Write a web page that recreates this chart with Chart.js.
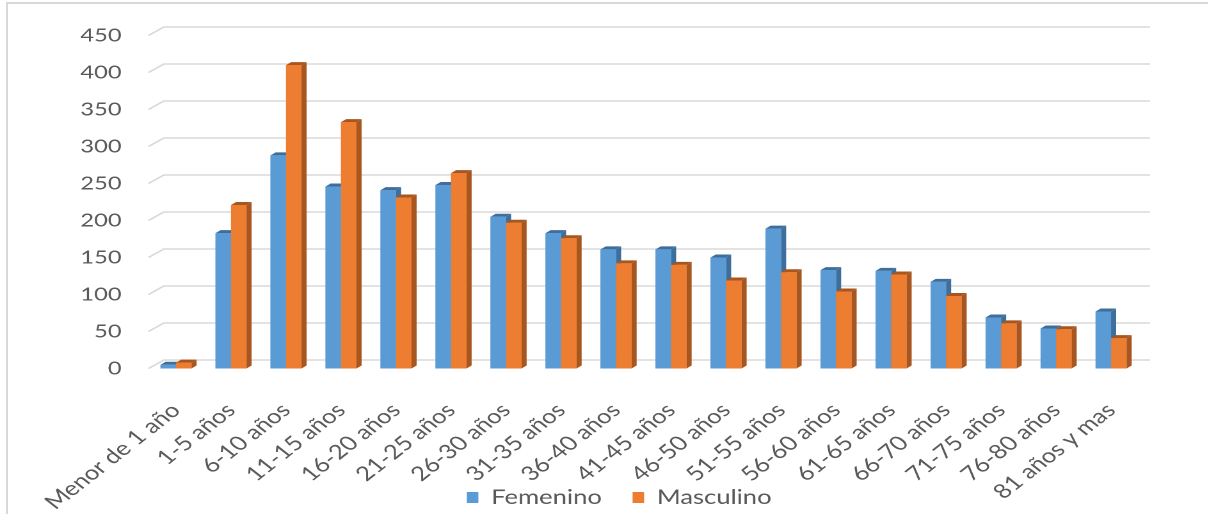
<!DOCTYPE html>
<html>
<head>
<meta charset="utf-8">
<script src="https://cdn.jsdelivr.net/npm/chart.js@4.4.1/dist/chart.umd.min.js"></script>
<style>
  html, body { margin: 0; padding: 0; background: #fff; }
  #marco { position: absolute; left: 6px; top: 2px; width: 1202px; height: 510px;
           border-left: 2px solid #d9d9d9; border-top: 2px solid #d9d9d9; }
  /* la imagen original esta estirada a lo ancho */
  #caja { position: absolute; left: 0; top: 0; width: 944px; height: 514px;
          transform: scaleX(1.28); transform-origin: 0 0; }
</style>
</head>
<body>
<div id="marco"></div>
<div id="caja"><canvas id="chart"></canvas></div>
<script>
const categorias = ["Menor de 1 año", "1-5 años", "6-10 años", "11-15 años", "16-20 años",
  "21-25 años", "26-30 años", "31-35 años", "36-40 años", "41-45 años", "46-50 años",
  "51-55 años", "56-60 años", "61-65 años", "66-70 años", "71-75 años", "76-80 años",
  "81 años y mas"];
const femenino = [5, 183, 288, 246, 241, 248, 205, 183, 161, 161, 150, 189, 133, 132, 117, 69, 54, 77];
const masculino = [8, 221, 410, 333, 231, 264, 197, 176, 142, 140, 119, 130, 104, 127, 98, 61, 53, 41];
const ejeYMax = 450;
const ejeYPaso = 50;

const fuente = { family: "Lato", size: 20 };
const gris = "#595959";

// caras laterales y superiores para imitar las columnas 3D
const efecto3d = {
  id: "efecto3d",
  afterLayout(chart) {
    // leyenda un poco a la derecha y encima del hueco de las etiquetas
    const lg = chart.legend;
    lg.left += 24; lg.right += 24;
    lg.top -= 47; lg.bottom -= 47;
  },
  beforeDatasetsDraw(chart) {
    const { ctx, chartArea, scales: { y } } = chart;
    ctx.save();
    ctx.strokeStyle = "#d9d9d9";
    ctx.lineWidth = 1.6;
    y.ticks.forEach(t => {
      const py = y.getPixelForValue(t.value);
      ctx.beginPath();
      ctx.moveTo(chartArea.left, py);
      ctx.lineTo(chartArea.left + 12, py - 8.5);
      ctx.lineTo(chartArea.right + 9, py - 8.5);
      ctx.stroke();
    });
    ctx.restore();
  },
  afterDatasetsDraw(chart) {
    const ctx = chart.ctx;
    ctx.save();
    chart.data.datasets.forEach((ds, i) => {
      const meta = chart.getDatasetMeta(i);
      meta.data.forEach(bar => {
        const { x, y, base, width } = bar.getProps(["x", "y", "base", "width"], true);
        const l = x - width / 2, r = x + width / 2;
        ctx.fillStyle = ds.sombra;
        ctx.beginPath();
        ctx.moveTo(r, y); ctx.lineTo(r + 4, y - 3); ctx.lineTo(r + 4, base - 3); ctx.lineTo(r, base);
        ctx.closePath(); ctx.fill();
        ctx.beginPath();
        ctx.moveTo(l, y); ctx.lineTo(l + 4, y - 3); ctx.lineTo(r + 4, y - 3); ctx.lineTo(r, y);
        ctx.closePath(); ctx.fill();
        bar.draw(ctx, chart.chartArea);
      });
    });
    ctx.restore();
  }
};

new Chart(document.getElementById("chart"), {
  type: "bar",
  data: {
    labels: categorias,
    datasets: [
      { label: "Femenino", data: femenino, backgroundColor: "#5b9bd5", sombra: "#3e6e9b",
        categoryPercentage: 0.563, barPercentage: 1.0 },
      { label: "Masculino", data: masculino, backgroundColor: "#ed7d31", sombra: "#a8561f",
        categoryPercentage: 0.563, barPercentage: 1.0 }
    ]
  },
  options: {
    responsive: true,
    maintainAspectRatio: false,
    animation: false,
    devicePixelRatio: 2,
    layout: { padding: { left: 30, right: 54.5, top: 35.5, bottom: -50.5 } },
    plugins: {
      legend: {
        position: "bottom",
        labels: { font: fuente, color: gris, boxWidth: 9, boxHeight: 11, padding: 24 }
      },
      tooltip: { enabled: false }
    },
    scales: {
      x: {
        grid: { display: false },
        border: { display: false },
        ticks: { font: fuente, color: gris, minRotation: 45, maxRotation: 45, autoSkip: false,
                 padding: 22 },
        afterFit(s) { s.height = 142; }
      },
      y: {
        min: 0,
        max: ejeYMax,
        grid: { display: false },
        border: { display: false },
        ticks: { stepSize: ejeYPaso, font: { family: "Lato", size: 18.5 }, color: gris, padding: 13 },
        afterFit(s) { s.width = 116 - 30; }
      }
    }
  },
  plugins: [efecto3d]
});
</script>
</body>
</html>
